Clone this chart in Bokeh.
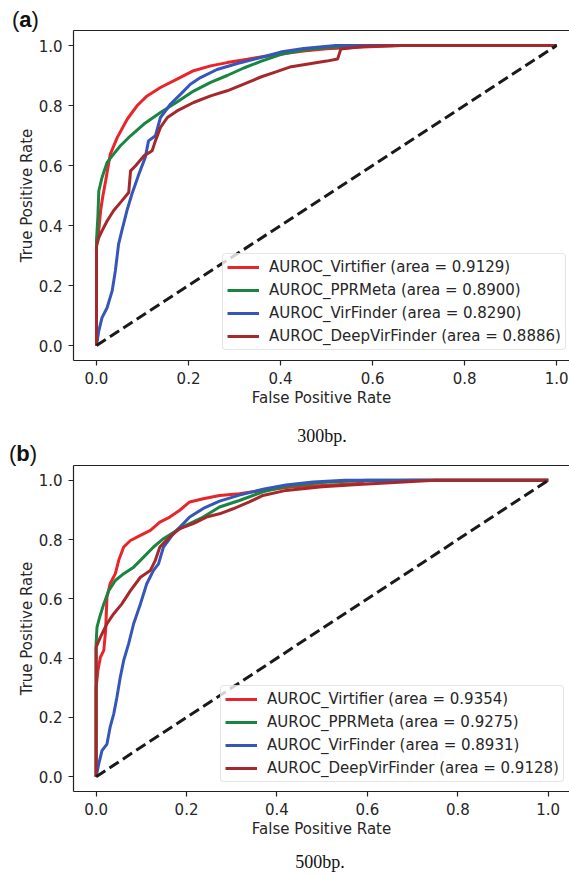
from bokeh.plotting import figure
from bokeh.layouts import column
from bokeh.models import Range1d, LinearAxis, Legend, LegendItem, FixedTicker, Div
from bokeh.embed import file_html
from bokeh.resources import INLINE

# ---------------- data ----------------
methods = ["Virtifier", "PPRMeta", "VirFinder", "DeepVirFinder"]
auc_300 = ["0.9129", "0.8900", "0.8290", "0.8886"]
auc_500 = ["0.9354", "0.9275", "0.8931", "0.9128"]
ticks = [0.0, 0.2, 0.4, 0.6, 0.8, 1.0]
tick_labels = ["0.0", "0.2", "0.4", "0.6", "0.8", "1.0"]
diag_x = [0.0, 1.0]
diag_y = [0.0, 1.0]

# 300bp
fpr_virtifier_300 = [0, 0, 0.004, 0.009, 0.014, 0.020, 0.030, 0.045, 0.067, 0.088, 0.110, 0.139, 0.175, 0.211, 0.248, 0.284, 0.328, 0.357, 0.40, 0.45, 0.50, 0.58, 0.66, 1.0]
tpr_virtifier_300 = [0, 0.34, 0.37, 0.45, 0.50, 0.55, 0.638, 0.693, 0.755, 0.799, 0.832, 0.860, 0.888, 0.916, 0.932, 0.943, 0.954, 0.962, 0.972, 0.982, 0.989, 0.995, 1.0, 1.0]
fpr_pprmeta_300 = [0, 0, 0.003, 0.005, 0.012, 0.023, 0.034, 0.052, 0.074, 0.103, 0.139, 0.175, 0.211, 0.248, 0.284, 0.320, 0.357, 0.40, 0.45, 0.50, 0.60, 1.0]
tpr_pprmeta_300 = [0, 0.35, 0.43, 0.515, 0.56, 0.61, 0.632, 0.666, 0.699, 0.738, 0.777, 0.812, 0.848, 0.877, 0.900, 0.925, 0.947, 0.970, 0.985, 0.993, 1.0, 1.0]
fpr_virfinder_300 = [0, 0.005, 0.012, 0.023, 0.034, 0.041, 0.048, 0.055, 0.066, 0.077, 0.092, 0.106, 0.113, 0.128, 0.139, 0.161, 0.183, 0.204, 0.226, 0.262, 0.306, 0.357, 0.40, 0.45, 0.52, 1.0]
tpr_virfinder_300 = [0, 0.049, 0.093, 0.126, 0.182, 0.249, 0.338, 0.382, 0.449, 0.505, 0.571, 0.627, 0.682, 0.699, 0.760, 0.805, 0.838, 0.871, 0.893, 0.920, 0.940, 0.960, 0.978, 0.990, 1.0, 1.0]
fpr_deepvirfinder_300 = [0, 0, 0.005, 0.012, 0.023, 0.037, 0.055, 0.070, 0.074, 0.085, 0.103, 0.121, 0.128, 0.139, 0.154, 0.175, 0.211, 0.248, 0.284, 0.320, 0.357, 0.39, 0.42, 0.46, 0.50, 0.524, 0.531, 0.58, 0.66, 1.0]
tpr_deepvirfinder_300 = [0, 0.33, 0.36, 0.382, 0.415, 0.449, 0.482, 0.51, 0.582, 0.599, 0.632, 0.649, 0.682, 0.727, 0.76, 0.782, 0.81, 0.832, 0.849, 0.871, 0.895, 0.912, 0.928, 0.938, 0.948, 0.955, 0.988, 0.997, 1.0, 1.0]

# 500bp
fpr_virtifier_500 = [0, 0, 0.004, 0.0095, 0.017, 0.021, 0.024, 0.031, 0.0425, 0.050, 0.061, 0.076, 0.098, 0.12, 0.141, 0.163, 0.185, 0.207, 0.237, 0.273, 0.317, 0.369, 0.435, 0.515, 0.578, 0.594, 0.70, 1.0]
tpr_virtifier_500 = [0, 0.30, 0.358, 0.403, 0.426, 0.493, 0.606, 0.651, 0.685, 0.730, 0.775, 0.797, 0.814, 0.831, 0.859, 0.876, 0.899, 0.927, 0.938, 0.949, 0.955, 0.966, 0.978, 0.983, 0.989, 0.998, 1.0, 1.0]
fpr_pprmeta_500 = [0, 0, 0.002, 0.008, 0.017, 0.028, 0.0425, 0.061, 0.083, 0.105, 0.127, 0.149, 0.178, 0.207, 0.237, 0.273, 0.317, 0.369, 0.42, 0.50, 0.60, 1.0]
tpr_pprmeta_500 = [0, 0.45, 0.505, 0.539, 0.583, 0.628, 0.662, 0.685, 0.707, 0.741, 0.775, 0.803, 0.831, 0.854, 0.876, 0.91, 0.932, 0.961, 0.98, 0.993, 1.0, 1.0]
fpr_virfinder_500 = [0, 0.0059, 0.013, 0.024, 0.031, 0.039, 0.046, 0.0535, 0.061, 0.072, 0.083, 0.098, 0.112, 0.127, 0.138, 0.149, 0.171, 0.193, 0.207, 0.237, 0.273, 0.317, 0.369, 0.42, 0.48, 0.55, 1.0]
tpr_virfinder_500 = [0, 0.043, 0.088, 0.110, 0.167, 0.212, 0.268, 0.336, 0.392, 0.449, 0.516, 0.583, 0.651, 0.696, 0.718, 0.775, 0.820, 0.854, 0.876, 0.905, 0.930, 0.950, 0.970, 0.984, 0.994, 1.0, 1.0]
fpr_deepvirfinder_500 = [0, 0, 0.0095, 0.024, 0.039, 0.057, 0.076, 0.098, 0.12, 0.131, 0.141, 0.163, 0.185, 0.215, 0.244, 0.273, 0.303, 0.339, 0.369, 0.42, 0.50, 0.58, 0.66, 0.75, 1.0]
tpr_deepvirfinder_500 = [0, 0.437, 0.471, 0.516, 0.55, 0.583, 0.628, 0.673, 0.696, 0.73, 0.775, 0.809, 0.837, 0.854, 0.876, 0.887, 0.904, 0.927, 0.949, 0.966, 0.978, 0.986, 0.993, 1.0, 1.0]

curves_300 = [(fpr_virtifier_300, tpr_virtifier_300), (fpr_pprmeta_300, tpr_pprmeta_300),
              (fpr_virfinder_300, tpr_virfinder_300), (fpr_deepvirfinder_300, tpr_deepvirfinder_300)]
curves_500 = [(fpr_virtifier_500, tpr_virtifier_500), (fpr_pprmeta_500, tpr_pprmeta_500),
              (fpr_virfinder_500, tpr_virfinder_500), (fpr_deepvirfinder_500, tpr_deepvirfinder_500)]

# ---------------- styles ----------------
colors = ["#e8252b", "#1a8540", "#3656b8", "#a5292b"]
FONT = "DejaVu Sans"
FS = "15px"
TXT = "#262626"
W = 569


def make_panel(curves, aucs, height, b_left, b_top, b_bottom, x_end, leg_xy):
    p = figure(width=W, height=height, x_range=Range1d(-0.05, x_end), y_range=Range1d(-0.05, 1.05),
               output_backend="svg", toolbar_location=None, margin=0,
               min_border_left=b_left, min_border_right=0, min_border_top=b_top, min_border_bottom=b_bottom)
    p.xgrid.visible = False
    p.ygrid.visible = False
    p.outline_line_color = None
    p.background_fill_color = "white"
    p.border_fill_alpha = 0

    for ax in (p.xaxis[0], p.yaxis[0]):
        ax.ticker = FixedTicker(ticks=ticks)
        ax.major_label_overrides = {t: s for t, s in zip(ticks, tick_labels)}
        ax.minor_tick_line_color = None
        ax.major_tick_in = 0
        ax.major_tick_out = 5
        ax.major_tick_line_color = "#222222"
        ax.major_tick_line_width = 1.2
        ax.axis_line_color = "#222222"
        ax.axis_line_width = 1.2
        ax.major_label_text_font = FONT
        ax.major_label_text_font_size = FS
        ax.major_label_text_color = TXT
        ax.axis_label_text_font = FONT
        ax.axis_label_text_font_size = FS
        ax.axis_label_text_font_style = "normal"
        ax.axis_label_text_color = TXT
    p.xaxis.major_label_standoff = 6
    p.xaxis.axis_label_standoff = 2
    p.yaxis.major_label_standoff = 6
    p.yaxis.axis_label_standoff = 0
    p.xaxis.axis_label = "False Positive Rate"
    p.yaxis.axis_label = "True Positive Rate"

    top = LinearAxis(ticker=FixedTicker(ticks=[]), major_label_text_font_size="0px",
                     major_label_standoff=0, major_tick_out=0, major_tick_in=0,
                     major_tick_line_color=None, minor_tick_line_color=None,
                     axis_line_color="#222222", axis_line_width=1.2)
    p.add_layout(top, "above")

    items = []
    for (fx, fy), c, m, a in zip(curves, colors, methods, aucs):
        r = p.line(fx, fy, line_color=c, line_width=3)
        items.append(LegendItem(label=f"AUROC_{m} (area = {a})", renderers=[r]))
    p.line(diag_x, diag_y, line_color="#1a1a1a", line_width=3, line_dash="11 5")

    legend = Legend(items=items, location=leg_xy, orientation="vertical",
                    label_text_font=FONT, label_text_font_size=FS, label_text_color=TXT,
                    glyph_width=32, glyph_height=18, label_height=18, spacing=5, padding=4,
                    label_standoff=10, margin=0,
                    border_line_color="#cccccc", border_line_width=1,
                    background_fill_color="white", background_fill_alpha=0.8)
    try:
        legend.border_radius = 4
    except Exception:
        pass
    p.add_layout(legend)
    return p


def text_div(height, pieces):
    html = f'<div style="position:relative;width:{W}px;height:{height}px;overflow:visible;">'
    for piece in pieces:
        html += piece
    html += "</div>"
    return Div(text=html, width=W, height=height, margin=0, styles={"overflow": "visible"})


def letter_html(letter, left, top):
    return (f'<span style="position:absolute;left:{left}px;top:{top}px;line-height:22px;'
            f'font-family:\'Liberation Sans\';font-size:22px;color:#111;white-space:nowrap;">'
            f'(<b>{letter}</b>)</span>')


def caption_html(text, center, top):
    return (f'<div style="position:absolute;left:{center - 100}px;top:{top}px;width:200px;text-align:center;'
            f'line-height:18px;font-family:\'Liberation Serif\';font-size:18px;color:#111;">{text}</div>')


pa = make_panel(curves_300, auc_300, 390, 73, 2, 58, 1.028, (149, 10))
pb = make_panel(curves_500, auc_500, 386, 70, 2, 58, 1.047, (147, 9))

d_top = text_div(28, [letter_html("a", 12, 8.6)])
d_mid = text_div(45, [caption_html("300bp.", 322, 9), letter_html("b", 9, 25)])
d_bot = text_div(25, [caption_html("500bp.", 320, 4)])

layout = column(d_top, pa, d_mid, pb, d_bot, spacing=0)
open("out.html", "w").write(file_html(layout, INLINE))
